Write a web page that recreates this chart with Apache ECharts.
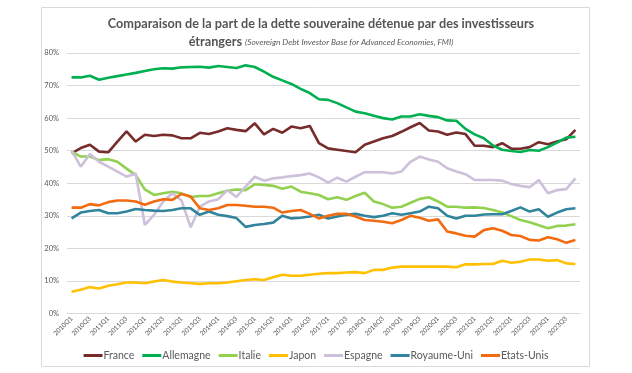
<!DOCTYPE html>
<html>
<head>
<meta charset="utf-8">
<script src="https://cdn.jsdelivr.net/npm/echarts@6/dist/echarts.min.js"></script>
<style>
html,body{margin:0;padding:0;background:#fff;}
#chart{width:632px;height:373px;}
</style>
</head>
<body>
<div id="chart"></div>
<script>
const categories = [
 '2010Q1','2010Q2','2010Q3','2010Q4','2011Q1','2011Q2','2011Q3','2011Q4',
 '2012Q1','2012Q2','2012Q3','2012Q4','2013Q1','2013Q2','2013Q3','2013Q4',
 '2014Q1','2014Q2','2014Q3','2014Q4','2015Q1','2015Q2','2015Q3','2015Q4',
 '2016Q1','2016Q2','2016Q3','2016Q4','2017Q1','2017Q2','2017Q3','2017Q4',
 '2018Q1','2018Q2','2018Q3','2018Q4','2019Q1','2019Q2','2019Q3','2019Q4',
 '2020Q1','2020Q2','2020Q3','2020Q4','2021Q1','2021Q2','2021Q3','2021Q4',
 '2022Q1','2022Q2','2022Q3','2022Q4','2023Q1','2023Q2','2023Q3','2023Q4'
];
const france = [49.2,50.8,51.8,49.7,49.5,52.8,55.9,52.8,54.9,54.5,54.9,54.7,53.8,53.8,55.5,55.1,55.9,56.9,56.4,56.0,58.4,55.0,56.7,55.5,57.4,56.9,57.6,52.3,50.7,50.3,49.9,49.5,51.8,52.8,53.8,54.5,55.8,57.2,58.5,56.2,55.9,54.9,55.6,55.1,51.5,51.5,51.1,52.3,50.6,50.6,51.1,52.6,52.0,52.8,53.5,56.4];
const allemagne = [72.5,72.5,73.0,71.8,72.4,72.9,73.4,73.9,74.5,75.0,75.3,75.2,75.6,75.7,75.8,75.5,76.0,75.7,75.4,76.2,75.7,74.3,72.7,71.6,70.5,69.0,67.7,65.8,65.6,64.6,63.3,62.0,61.5,60.7,60.0,59.6,60.5,60.5,61.2,60.7,60.3,59.3,59.2,56.7,55.0,53.8,51.6,50.3,49.9,49.6,50.2,50.0,51.1,52.5,54.0,54.3];
const italie = [49.7,48.2,48.2,47.1,47.4,46.6,44.5,42.5,38.1,36.4,36.9,37.4,36.9,35.8,36.1,36.1,36.9,37.7,38.1,37.9,39.7,39.5,39.2,38.3,39.0,37.4,36.9,36.4,35.1,35.7,34.9,36.1,37.1,34.4,33.6,32.5,32.8,34.0,35.2,35.7,34.4,32.8,32.8,32.5,32.6,32.4,31.8,31.0,29.9,28.7,28.0,27.1,26.2,26.9,27.0,27.4];
const japon = [6.7,7.3,8.1,7.7,8.5,9.0,9.5,9.5,9.3,9.8,10.3,9.8,9.5,9.3,9.1,9.3,9.3,9.5,9.9,10.3,10.5,10.3,11.1,11.9,11.6,11.6,11.9,12.2,12.4,12.4,12.6,12.7,12.4,13.4,13.4,14.1,14.4,14.4,14.4,14.4,14.4,14.4,14.2,15.1,15.1,15.2,15.2,16.2,15.6,15.9,16.6,16.6,16.2,16.4,15.4,15.2];
const espagne = [50.0,45.1,49.0,46.6,45.1,43.6,42.0,43.0,27.2,30.3,34.4,36.9,34.7,26.5,32.8,34.4,35.1,37.9,35.8,39.0,42.0,40.8,41.5,41.8,42.2,42.5,43.0,41.8,40.2,41.7,40.5,42.0,43.4,43.4,43.4,43.0,43.6,46.6,48.2,47.3,46.6,44.6,43.6,42.8,41.0,41.0,41.0,40.8,39.8,39.2,38.8,41.0,36.9,37.9,38.2,41.5];
const royaumeUni = [29.2,31.0,31.5,31.8,30.8,30.8,31.3,32.1,31.8,31.6,31.5,31.8,32.3,32.3,30.3,31.3,30.3,29.9,29.3,26.6,27.2,27.5,27.9,30.0,29.2,29.4,29.8,30.3,29.2,29.8,30.3,30.6,30.0,29.6,30.0,30.8,30.3,30.8,31.3,32.8,32.3,30.0,29.2,30.0,30.0,30.4,30.5,30.5,31.5,32.6,31.3,32.0,29.7,31.0,32.0,32.3];
const etatsUnis = [32.5,32.5,33.6,33.2,34.2,34.7,34.7,34.4,33.4,34.4,35.1,34.9,36.7,35.9,32.3,31.8,32.3,33.3,33.3,33.1,32.8,32.8,32.5,31.0,31.5,31.8,30.6,29.2,30.0,30.6,30.6,29.8,28.7,28.5,28.2,27.7,28.7,30.0,29.4,28.5,28.9,25.2,24.6,23.9,23.6,25.6,26.2,25.4,24.1,23.8,22.6,22.4,23.4,22.8,21.7,22.6];

const seriesNames = ['France','Allemagne','Italie','Japon','Espagne','Royaume-Uni','Etats-Unis'];
const seriesData = [france, allemagne, italie, japon, espagne, royaumeUni, etatsUnis];
const seriesColors = ['#772B2B','#00B050','#92D050','#FFC000','#CCC0DA','#31849B','#F26B10'];

const FONT = 'Lato';
const chart = echarts.init(document.getElementById('chart'), null, {renderer:'canvas'});
chart.setOption({
  backgroundColor:'#fff',
  animation:false,
  graphic:[{
    type:'rect', shape:{x:41.5,y:7.5,width:548,height:359},
    style:{fill:'none',stroke:'#d9d9d9',lineWidth:1}, silent:true, z:-1
  }],
  title:{
    left:316, top:10, textAlign:'center',
    text:'Comparaison de la part de la dette souveraine détenue par des investisseurs\n{b|étrangers} {s|(Sovereign Debt Investor Base for Advanced Economies, FMI)}',
    textStyle:{
      fontFamily:FONT, fontWeight:'bold', fontSize:12.7, color:'#555555', lineHeight:18, align:'center',
      rich:{
        b:{fontFamily:FONT, fontWeight:'bold', fontSize:12.7, color:'#555555', lineHeight:18},
        s:{fontFamily:FONT, fontStyle:'italic', fontWeight:'normal', fontSize:8.3, color:'#595959', lineHeight:18}
      }
    }
  },
  legend:{
    data:seriesNames, top:345, left:'center',
    icon:'rect', itemWidth:19, itemHeight:3, itemGap:8,
    textStyle:{fontFamily:FONT, fontSize:10.5, color:'#595959', padding:[0,0,0,-4]}
  },
  grid:{left:67, right:52, top:53, bottom:59.5, containLabel:false},
  xAxis:{
    type:'category', data:categories, boundaryGap:true,
    axisLine:{show:true, lineStyle:{color:'#d9d9d9', width:1}},
    axisTick:{show:false},
    axisLabel:{interval:1, rotate:45, fontFamily:FONT, fontSize:6.5, color:'#595959', margin:4}
  },
  yAxis:{
    type:'value', min:0, max:80, interval:10,
    axisLine:{show:false}, axisTick:{show:false},
    axisLabel:{formatter:'{value}%', fontFamily:FONT, fontSize:7.5, color:'#595959', margin:8},
    splitLine:{lineStyle:{color:'#d9d9d9', width:1}}
  },
  series: seriesNames.map((n,i)=>({
    name:n, type:'line', data:seriesData[i], symbol:'none', smooth:false,
    lineStyle:{color:seriesColors[i], width:2.6}, itemStyle:{color:seriesColors[i]}
  }))
});
</script>
</body>
</html>
